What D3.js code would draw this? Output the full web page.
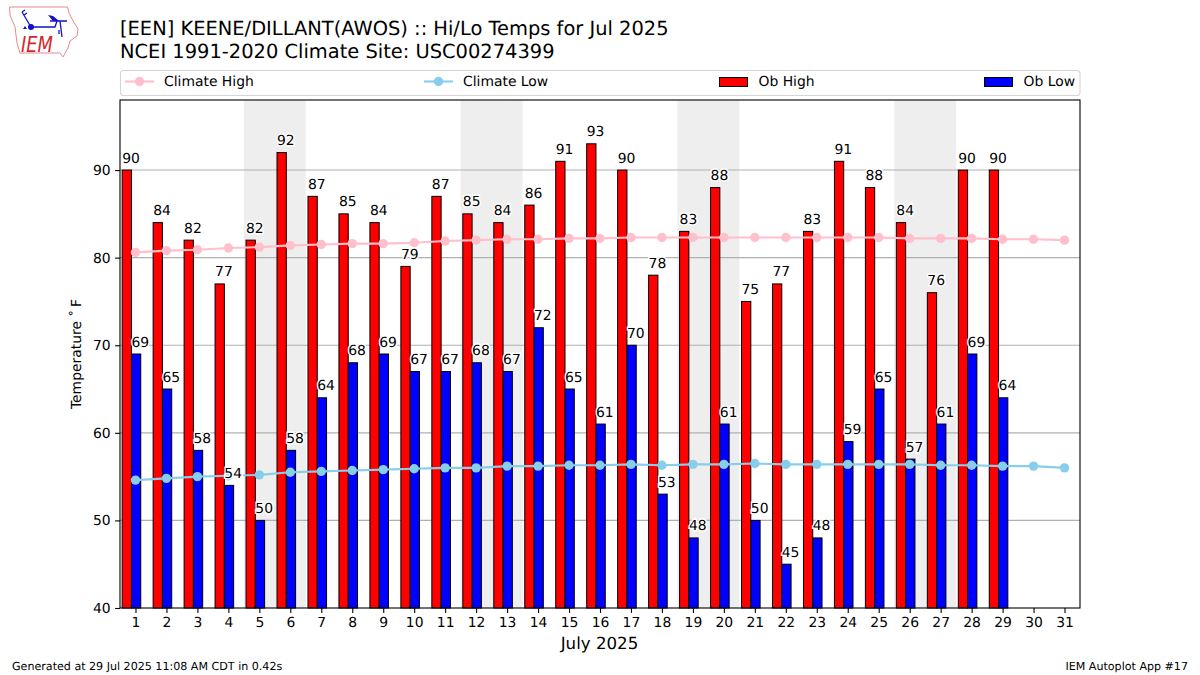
<!DOCTYPE html>
<html>
<head>
<meta charset="utf-8">
<script src="https://cdn.jsdelivr.net/npm/d3@7"></script>
<style>
body { margin: 0; background: #fff; }
text { font-family: "DejaVu Sans", sans-serif; fill: #000; text-rendering: geometricPrecision; }
</style>
</head>
<body>
<svg id="chart" width="1200" height="675"></svg>
<script>
// values
const days = d3.range(1, 32)
const obHigh = [90, 84, 82, 77, 82, 92, 87, 85, 84, 79, 87, 85, 84, 86, 91, 93, 90, 78, 83, 88, 75, 77, 83, 91, 88, 84, 76, 90, 90]
const obLow = [69, 65, 58, 54, 50, 58, 64, 68, 69, 67, 67, 68, 67, 72, 65, 61, 70, 53, 48, 61, 50, 45, 48, 59, 65, 57, 61, 69, 64]
const climateHigh = [80.6, 80.8, 80.9, 81.1, 81.2, 81.4, 81.5, 81.6, 81.6, 81.7, 81.9, 82.0, 82.1, 82.1, 82.2, 82.2, 82.3, 82.3, 82.3, 82.3, 82.3, 82.3, 82.3, 82.3, 82.3, 82.2, 82.2, 82.2, 82.1, 82.1, 82.0]
const climateLow = [54.6, 54.8, 55.0, 55.1, 55.2, 55.5, 55.6, 55.7, 55.8, 55.9, 56.0, 56.0, 56.2, 56.2, 56.3, 56.3, 56.4, 56.3, 56.4, 56.4, 56.5, 56.4, 56.4, 56.4, 56.4, 56.4, 56.3, 56.3, 56.2, 56.2, 56.0]
const weekendStarts = [5, 12, 19, 26]
const yTicks = [40, 50, 60, 70, 80, 90]

const titleLines = ["[EEN] KEENE/DILLANT(AWOS) :: Hi/Lo Temps for Jul 2025", "NCEI 1991-2020 Climate Site: USC00274399"]

const svg = d3.select("#chart")

let plot = { left: 120, right: 1080, top: 100, bottom: 608 }

let x = d3.scaleLinear().domain([0.5, 31.5]).range([plot.left, plot.right])
let y = d3.scaleLinear().domain([40, 98]).range([plot.bottom, plot.top])

// weekend bands
svg.append("g").selectAll("rect")
    .data(weekendStarts)
    .join("rect")
    .attr("x", d => x(d - 0.5))
    .attr("width", d => x(d + 1.5) - x(d - 0.5))
    .attr("y", plot.top)
    .attr("height", plot.bottom - plot.top)
    .attr("fill", "#eeeeee")

// gridlines sit under the bars
svg.append("g").selectAll("line")
    .data(yTicks.slice(1))
    .join("line")
    .attr("x1", plot.left)
    .attr("x2", plot.right)
    .attr("y1", d => y(d))
    .attr("y2", d => y(d))
    .attr("stroke", "#b0b0b0")
    .attr("stroke-width", 1.1)

function drawBars(values, offset, color) {
    svg.append("g").selectAll("rect")
        .data(values)
        .join("rect")
        .attr("x", (d, i) => x(days[i] + offset))
        .attr("width", x(0.8) - x(0.5))
        .attr("y", d => y(d))
        .attr("height", d => y(40) - y(d))
        .attr("fill", color)
        .attr("stroke", "#000")
        .attr("stroke-width", 1)
}
drawBars(obHigh, -0.43, "red")
drawBars(obLow, -0.13, "blue")

function drawClimate(values, color) {
    let line = d3.line().x((d, i) => x(days[i])).y(d => y(d))
    svg.append("path")
        .attr("d", line(values))
        .attr("fill", "none")
        .attr("stroke", color)
        .attr("stroke-width", 2.1)
    svg.append("g").selectAll("circle")
        .data(values)
        .join("circle")
        .attr("cx", (d, i) => x(days[i]))
        .attr("cy", d => y(d))
        .attr("r", 4.7)
        .attr("fill", color)
}
drawClimate(climateHigh, "#ffc0cb")
drawClimate(climateLow, "#87ceeb")

// value labels with a white halo
function drawLabels(values, offset) {
    svg.append("g").selectAll("text")
        .data(values)
        .join("text")
        .attr("x", (d, i) => x(days[i] + offset))
        .attr("y", d => y(d) - 7.5)
        .attr("font-size", 13.9)
        .attr("stroke", "#fff")
        .attr("stroke-width", 2.8)
        .attr("paint-order", "stroke")
        .text(d => d)
}
drawLabels(obHigh, -0.43)
drawLabels(obLow, -0.13)

// axes
let xAxis = d3.axisBottom(x).tickValues(days).tickFormat(d3.format("d")).tickSizeInner(4.9).tickSizeOuter(0).tickPadding(4.5)
let yAxis = d3.axisLeft(y).tickValues(yTicks).tickFormat(d3.format("d")).tickSizeInner(4.9).tickSizeOuter(0).tickPadding(4.5)

let gx = svg.append("g").attr("transform", `translate(0,${plot.bottom})`).call(xAxis)
let gy = svg.append("g").attr("transform", `translate(${plot.left},0)`).call(yAxis)
for (let g of [gx, gy]) {
    g.selectAll("text").attr("font-size", 13.9).attr("font-family", "DejaVu Sans")
    g.selectAll("line").attr("stroke", "#000").attr("stroke-width", 1.1)
    g.select(".domain").remove()
}

// frame
svg.append("rect")
    .attr("x", plot.left)
    .attr("y", plot.top)
    .attr("width", plot.right - plot.left)
    .attr("height", plot.bottom - plot.top)
    .attr("fill", "none")
    .attr("stroke", "#000")
    .attr("stroke-width", 1.1)

// titles
svg.selectAll("text.title")
    .data(titleLines)
    .join("text")
    .attr("class", "title")
    .attr("x", 120)
    .attr("y", (d, i) => 35 + i * 23)
    .attr("font-size", 19.44)
    .text(d => d)

svg.append("text")
    .attr("x", 599.5)
    .attr("y", 649)
    .attr("text-anchor", "middle")
    .attr("font-size", 16.67)
    .text("July 2025")

svg.append("text")
    .attr("transform", "translate(81,354) rotate(-90)")
    .attr("text-anchor", "middle")
    .attr("font-size", 13.9)
    .text("Temperature ˚\u2009F")

svg.append("text")
    .attr("x", 12)
    .attr("y", 670)
    .attr("font-size", 11.1)
    .text("Generated at 29 Jul 2025 11:08 AM CDT in 0.42s")

svg.append("text")
    .attr("x", 1188)
    .attr("y", 670)
    .attr("text-anchor", "end")
    .attr("font-size", 11.1)
    .text("IEM Autoplot App #17")

// legend
let legend = svg.append("g")
legend.append("rect")
    .attr("x", 120.5)
    .attr("y", 70.5)
    .attr("width", 959.5)
    .attr("height", 25)
    .attr("rx", 3)
    .attr("fill", "#fff")
    .attr("stroke", "#d5d5d5")
    .attr("stroke-width", 1.1)

function legendLine(x0, color, label) {
    legend.append("line")
        .attr("x1", x0).attr("x2", x0 + 29)
        .attr("y1", 81.5).attr("y2", 81.5)
        .attr("stroke", color).attr("stroke-width", 2.1)
    legend.append("circle")
        .attr("cx", x0 + 14.5).attr("cy", 81.5).attr("r", 4.7)
        .attr("fill", color)
    legend.append("text")
        .attr("x", x0 + 39).attr("y", 86)
        .attr("font-size", 13.9)
        .text(label)
}
function legendBar(x0, color, label) {
    legend.append("rect")
        .attr("x", x0).attr("y", 77.5)
        .attr("width", 28).attr("height", 9)
        .attr("fill", color)
        .attr("stroke", "#000").attr("stroke-width", 1)
    legend.append("text")
        .attr("x", x0 + 39).attr("y", 86)
        .attr("font-size", 13.9)
        .text(label)
}
legendLine(125, "#ffc0cb", "Climate High")
legendLine(424, "#87ceeb", "Climate Low")
legendBar(719.5, "red", "Ob High")
legendBar(984.5, "blue", "Ob Low")

// IEM logo, state outline with a little station plot
let logo = svg.append("g")
logo.append("path")
    .attr("d", "M9.5,7 L67.5,7 L69,13 L72,19 L78,29 L77,36 L70,41 L68,48 L63,57 L60,53 L20,53 L17,43 L15,27 L10,15 Z")
    .attr("fill", "none")
    .attr("stroke", "#e58a90")
    .attr("stroke-width", 1)
logo.append("path")
    .attr("d", "M31,27 L55,27 L57,21 M50,21 L67,21 M60,21 L62,37 M22,12 L31,27 M22,12 L25,10 M24,15 L27,13 M59,30 L59,34")
    .attr("fill", "none")
    .attr("stroke", "#1111cc")
    .attr("stroke-width", 1.3)
logo.append("circle").attr("cx", 31).attr("cy", 27).attr("r", 3).attr("fill", "#1111cc")
logo.append("path").attr("d", "M48,15 L53,16 L59,21 L53,21 Z").attr("fill", "#1111cc")
logo.append("path").attr("d", "M25,26 L27,29 L23,29 Z").attr("fill", "#1111cc")
logo.append("text")
    .attr("x", 21)
    .attr("y", 52)
    .attr("font-family", "Liberation Serif")
    .attr("font-style", "italic")
    .attr("font-size", 22)
    .attr("textLength", 32)
    .attr("lengthAdjust", "spacingAndGlyphs")
    .style("fill", "#d7262e")
    .text("IEM")
</script>
</body>
</html>
